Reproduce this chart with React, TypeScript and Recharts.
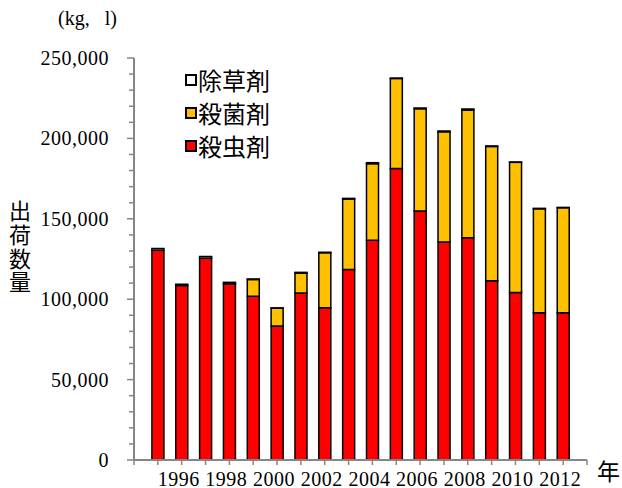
import { Bar, BarChart, Legend, XAxis, YAxis } from 'recharts';

// Pesticide shipments per year (kg, l)
const YEARS = [
  1995, 1996, 1997, 1998, 1999, 2000, 2001, 2002, 2003, 2004, 2005, 2006,
  2007, 2008, 2009, 2010, 2011, 2012,
];

const INSECTICIDE = [
  130500, 108500, 125500, 109600, 101900, 83300, 103800, 94700, 118500,
  136700, 181300, 154800, 135500, 138200, 111400, 104200, 91600, 91600,
];

const FUNGICIDE = [
  0, 0, 0, 0, 10400, 11100, 12400, 34200, 43800, 47600, 56000, 63700, 68600,
  79400, 83600, 80900, 64600, 65300,
];

const HERBICIDE = [
  1100, 800, 1100, 900, 300, 200, 500, 300, 400, 600, 200, 400, 500, 700, 300,
  200, 300, 200,
];

const X_TICKS = [
  1994, 1995, 1996, 1997, 1998, 1999, 2000, 2001, 2002, 2003, 2004, 2005,
  2006, 2007, 2008, 2009, 2010, 2011, 2012, 2013,
];
const X_LABELS = [1996, 1998, 2000, 2002, 2004, 2006, 2008, 2010, 2012];

const Y_TICKS = [
  0, 10000, 20000, 30000, 40000, 50000, 60000, 70000, 80000, 90000, 100000,
  110000, 120000, 130000, 140000, 150000, 160000, 170000, 180000, 190000,
  200000, 210000, 220000, 230000, 240000, 250000,
];
const Y_LABELS = [0, 50000, 100000, 150000, 200000, 250000];

// stacked bottom to top
const SERIES = [
  { key: 'insecticide', label: '殺虫剤', color: '#FF0000', values: INSECTICIDE },
  { key: 'fungicide', label: '殺菌剤', color: '#FFC000', values: FUNGICIDE },
  { key: 'herbicide', label: '除草剤', color: '#FFFFFF', values: HERBICIDE },
];

const data = YEARS.map((year, i) => {
  const row: Record<string, number> = { year };
  SERIES.forEach((s) => {
    row[s.key] = s.values[i];
  });
  return row;
});

const SERIF = '"Liberation Serif", "Noto Sans CJK JP", serif';
const GOTHIC = '"Noto Sans CJK JP", "Noto Sans", sans-serif';
const AXIS_COLOR = '#868686';

const SERIF_TEXT = { fontFamily: SERIF, fontSize: 20, letterSpacing: 0.5 };

function YearTick({ x, y, payload }: any) {
  if (!X_LABELS.includes(payload.value)) return null;
  return (
    <text x={x - 3} y={y} dy={18.5} textAnchor="middle" fill="#000" style={SERIF_TEXT}>
      {payload.value}
    </text>
  );
}

function AmountTick({ x, y, payload }: any) {
  const major = Y_LABELS.includes(payload.value);
  return (
    <g>
      <line
        x1={x - (major ? 7 : 5)}
        x2={x}
        y1={y}
        y2={y}
        stroke={AXIS_COLOR}
        strokeWidth={1.5}
      />
      {major && (
        <text x={x - 25} y={y} dy={7} textAnchor="end" fill="#000" style={SERIF_TEXT}>
          {payload.value.toLocaleString('en-US')}
        </text>
      )}
    </g>
  );
}

function LegendContent({ payload }: any) {
  // top series first
  const items = [...SERIES]
    .reverse()
    .map((s) => (payload ?? []).find((p: any) => p.dataKey === s.key))
    .filter(Boolean);
  return (
    <div>
      {items.map((item: any) => (
        <div
          key={item.dataKey}
          style={{ display: 'flex', alignItems: 'center', height: 33 }}
        >
          <span
            style={{
              width: 12,
              height: 12,
              boxSizing: 'border-box',
              border: '2px solid #000',
              background: item.color,
              marginRight: 1,
            }}
          />
          <span
            style={{
              fontFamily: GOTHIC,
              fontSize: 24,
              lineHeight: '33px',
              color: '#000',
            }}
          >
            {item.value}
          </span>
        </div>
      ))}
    </div>
  );
}

export default function App() {
  return (
    <div
      style={{
        position: 'absolute',
        left: 0,
        top: 0,
        width: 622,
        height: 488,
        background: '#fff',
      }}
    >
      <BarChart
        width={622}
        height={488}
        data={data}
        margin={{ top: 58, right: 35, bottom: 0, left: 0 }}
      >
        <XAxis
          dataKey="year"
          type="number"
          domain={[1994, 2013]}
          ticks={X_TICKS}
          interval={0}
          height={28}
          tickSize={5}
          tick={<YearTick />}
          tickLine={{ stroke: AXIS_COLOR, strokeWidth: 1.5 }}
          axisLine={{ stroke: AXIS_COLOR, strokeWidth: 2 }}
        />
        <YAxis
          type="number"
          domain={[0, 250000]}
          ticks={Y_TICKS}
          interval={0}
          width={134}
          tickSize={0}
          tickMargin={0}
          tickLine={false}
          tick={<AmountTick />}
          axisLine={{ stroke: AXIS_COLOR, strokeWidth: 2 }}
        />
        <Legend
          layout="vertical"
          align="center"
          verticalAlign="middle"
          content={<LegendContent />}
          wrapperStyle={{ left: 185, top: 63, width: 'auto', height: 'auto' }}
        />
        {SERIES.map((s) => (
          <Bar
            key={s.key}
            dataKey={s.key}
            name={s.label}
            stackId="total"
            fill={s.color}
            stroke="#000"
            strokeWidth={1.5}
            barSize={12}
            isAnimationActive={false}
          />
        ))}
      </BarChart>
      <svg
        width={622}
        height={488}
        style={{ position: 'absolute', left: 0, top: 0, pointerEvents: 'none' }}
      >
        <text x={58} y={25} fill="#000" style={{ fontFamily: SERIF, fontSize: 20 }}>
          (kg,<tspan dx={15}>l)</tspan>
        </text>
        <text
          x={20}
          y={200}
          fill="#000"
          style={{
            fontFamily: GOTHIC,
            fontSize: 22,
            letterSpacing: 1.7,
            writingMode: 'vertical-rl',
          }}
        >
          出荷数量
        </text>
        <text x={597} y={480} fill="#000" style={{ fontFamily: GOTHIC, fontSize: 23 }}>
          年
        </text>
      </svg>
    </div>
  );
}
